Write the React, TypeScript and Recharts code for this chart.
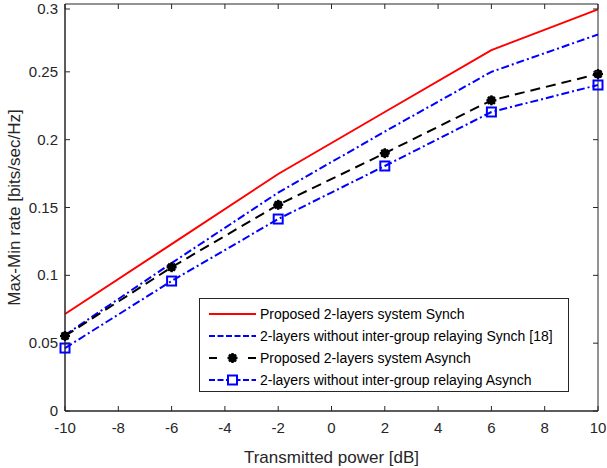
import React from 'react';
import { LineChart, Line, XAxis, YAxis, ReferenceArea } from 'recharts';

const power = [-10, -6, -2, 2, 6, 10];
const propSynch = [0.0715, 0.123, 0.1747, 0.2204, 0.266, 0.296];
const noRelaySynch = [0.056, 0.109, 0.161, 0.206, 0.25, 0.2775];
const propAsynch = [0.0553, 0.106, 0.152, 0.19, 0.229, 0.2484];
const noRelayAsynch = [0.0464, 0.0958, 0.1415, 0.1806, 0.2204, 0.2403];

const xTicks = [-10, -8, -6, -4, -2, 0, 2, 4, 6, 8, 10];
const yTicks = [0, 0.05, 0.1, 0.15, 0.2, 0.25, 0.3];

const names = [
  'Proposed 2-layers system Synch',
  '2-layers without inter-group relaying Synch [18]',
  'Proposed 2-layers system Asynch',
  '2-layers without inter-group relaying Asynch',
];

const data = power.map((p, i) => ({
  p,
  a: propSynch[i],
  b: noRelaySynch[i],
  c: propAsynch[i],
  d: noRelayAsynch[i],
}));

// plot box in page px
const L = 65, R = 598, T = 4, B = 411;
const AX = '#262626';
const FONT = 'Liberation Sans, Arial, Helvetica, sans-serif';
const DASHDOT = '8 3 2 3';
const DASHED = '10 6';

const Star = (props: any) => {
  const { cx, cy } = props;
  if (cx == null || cy == null) return null;
  const r = 5, d = 3.5;
  return (
    <g stroke="#000" strokeWidth={2.4}>
      <line x1={cx - r} y1={cy} x2={cx + r} y2={cy} />
      <line x1={cx} y1={cy - r} x2={cx} y2={cy + r} />
      <line x1={cx - d} y1={cy - d} x2={cx + d} y2={cy + d} />
      <line x1={cx - d} y1={cy + d} x2={cx + d} y2={cy - d} />
      <circle cx={cx} cy={cy} r={3} fill="#000" />
    </g>
  );
};

const Square = (props: any) => {
  const { cx, cy } = props;
  if (cx == null || cy == null) return null;
  return <rect x={cx - 4.5} y={cy - 4.5} width={9} height={9} fill="none" stroke="#0000ff" strokeWidth={2} />;
};

const XTick = (props: any) => {
  const { x, payload } = props;
  return (
    <g>
      <line x1={x} y1={B} x2={x} y2={B - 5} stroke={AX} />
      <line x1={x} y1={T} x2={x} y2={T + 5} stroke={AX} />
      <text x={x} y={B + 22} textAnchor="middle" fill={AX} fontSize={15} fontFamily={FONT}>
        {payload.value}
      </text>
    </g>
  );
};

const YTick = (props: any) => {
  const { y, payload } = props;
  return (
    <g>
      <line x1={L} y1={y} x2={L + 5} y2={y} stroke={AX} />
      <line x1={R} y1={y} x2={R - 5} y2={y} stroke={AX} />
      <text x={L - 7} y={y + 5} textAnchor="end" fill={AX} fontSize={15} fontFamily={FONT}>
        {payload.value}
      </text>
    </g>
  );
};

const LegendSample = ({ i }: { i: number }) => (
  <svg width={47} height={16} style={{ marginRight: 4, flex: 'none' }}>
    {i === 0 && <line x1={0} y1={8} x2={47} y2={8} stroke="#ff0000" strokeWidth={2} />}
    {i === 1 && <line x1={0} y1={8} x2={47} y2={8} stroke="#0000ff" strokeWidth={2} strokeDasharray="6 2.5" />}
    {i === 2 && (
      <g>
        <line x1={0} y1={8} x2={8} y2={8} stroke="#000" strokeWidth={2} />
        <line x1={39} y1={8} x2={47} y2={8} stroke="#000" strokeWidth={2} />
        <Star cx={23.5} cy={8} />
      </g>
    )}
    {i === 3 && (
      <g>
        <line x1={0} y1={8} x2={47} y2={8} stroke="#0000ff" strokeWidth={2} strokeDasharray="6 2.5" />
        <rect x={19} y={3.5} width={9} height={9} fill="#fff" stroke="#0000ff" strokeWidth={2} />
      </g>
    )}
  </svg>
);

const LegendBox = () => (
  <div
    style={{
      position: 'absolute',
      left: 199,
      top: 298,
      width: 370,
      height: 94,
      boxSizing: 'border-box',
      border: '1px solid #262626',
      background: '#fff',
      padding: '4px 0 0 9px',
      fontFamily: FONT,
      fontSize: 14,
      color: '#000',
    }}
  >
    {names.map((n, i) => (
      <div key={n} style={{ display: 'flex', alignItems: 'center', height: 22, whiteSpace: 'nowrap' }}>
        <LegendSample i={i} />
        <span>{n}</span>
      </div>
    ))}
  </div>
);

export default function App() {
  return (
    <div style={{ position: 'absolute', left: 0, top: 0, width: 607, height: 468, background: '#fff' }}>
      <LineChart width={607} height={468} data={data} margin={{ top: T, right: 607 - R, left: 0, bottom: 0 }}>
        <XAxis
          dataKey="p"
          type="number"
          domain={[-10, 10]}
          ticks={xTicks}
          tick={<XTick />}
          tickLine={false}
          tickSize={0}
          axisLine={{ stroke: AX }}
          height={468 - B}
          label={{ value: 'Transmitted power [dB]', position: 'insideBottom', offset: 5, fill: AX, fontSize: 17, fontFamily: FONT }}
        />
        <YAxis
          type="number"
          domain={[0, 0.3]}
          ticks={yTicks}
          tick={<YTick />}
          tickLine={false}
          tickSize={0}
          axisLine={{ stroke: AX }}
          width={L}
          label={{ value: 'Max-Min rate [bits/sec/Hz]', angle: -90, position: 'insideLeft', offset: 14, fill: AX, fontSize: 17, fontFamily: FONT, style: { textAnchor: 'middle' } }}
        />
        <ReferenceArea x1={-10} x2={10} y1={0} y2={0.3} fill="none" stroke={AX} strokeWidth={1} />
        <Line dataKey="a" name={names[0]} stroke="#ff0000" strokeWidth={2} dot={false} isAnimationActive={false} />
        <Line dataKey="b" name={names[1]} stroke="#0000ff" strokeWidth={2} strokeDasharray={DASHDOT} dot={false} isAnimationActive={false} />
        <Line dataKey="c" name={names[2]} stroke="#000000" strokeWidth={2} strokeDasharray={DASHED} dot={<Star />} isAnimationActive={false} />
        <Line dataKey="d" name={names[3]} stroke="#0000ff" strokeWidth={2} strokeDasharray={DASHDOT} dot={<Square />} isAnimationActive={false} />
      </LineChart>
      <LegendBox />
    </div>
  );
}
